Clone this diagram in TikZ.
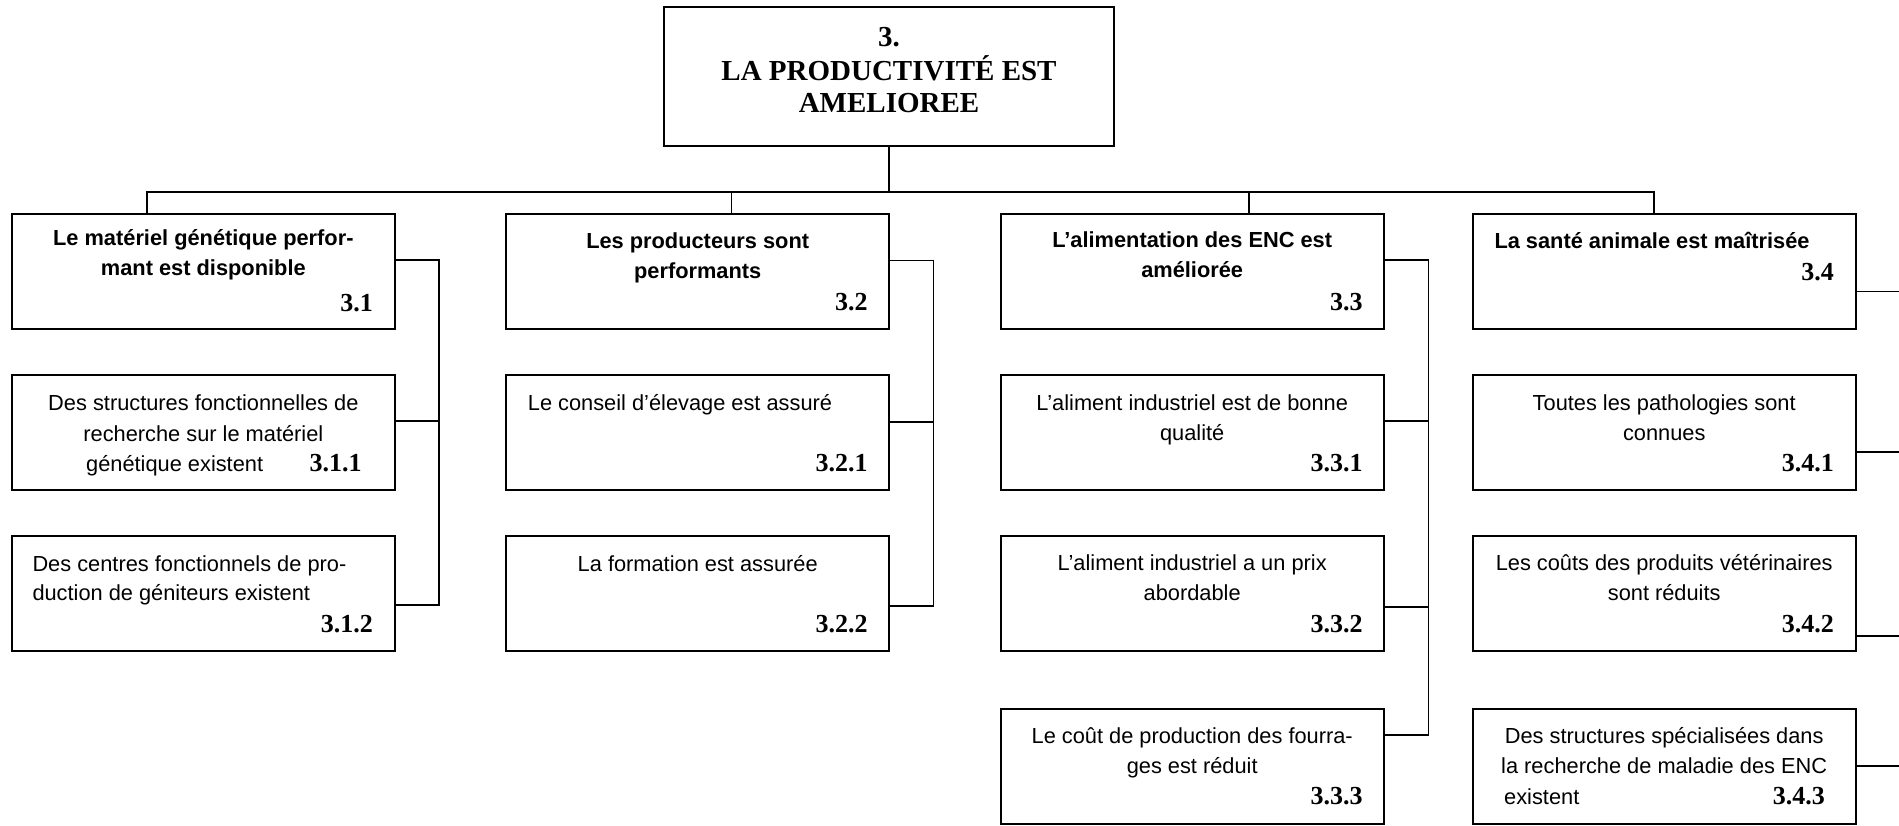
\documentclass[tikz,border=0pt]{standalone}
\usepackage{fontspec}
\setmainfont{Liberation Sans}
\newfontfamily\numfont{Liberation Serif}
\usetikzlibrary{calc}
\tikzset{
  box/.style={draw, line width=2pt, minimum width=383pt, minimum height=115pt, inner sep=0pt, outer sep=0pt},
  conn/.style={line width=1.6pt},
  txt/.style={anchor=base, inner sep=0pt, font=\fontsize{21.8}{26}\selectfont},
  txtw/.style={txt, anchor=base west},
  btxt/.style={txt, font=\fontsize{21.8}{26}\selectfont\bfseries},
  btxtw/.style={btxt, anchor=base west},
  num/.style={anchor=base east, inner sep=0pt, font=\numfont\fontsize{26}{30}\selectfont\bfseries},
  ttl/.style={anchor=base, inner sep=0pt, font=\numfont\fontsize{29}{33}\selectfont\bfseries}
}
\begin{document}
\begin{tikzpicture}[x=1pt,y=-1pt]
\useasboundingbox (0,0) rectangle (1899,826);
\clip (0,0) rectangle (1899,826);
\fill[white] (0,0) rectangle (1899,826);
% ---- boxes
\node[box, minimum width=450pt, minimum height=138.4pt] (b3) at (889,76.5) {};
\node[box] (b31) at (203.35,271.8) {};
\node[box] (b32) at (697.7,271.8) {};
\node[box] (b33) at (1192.2,271.8) {};
\node[box] (b34) at (1664.2,271.8) {};
\node[box, minimum height=114.5pt] (b311) at (203.35,432.75) {};
\node[box, minimum height=114.5pt] (b312) at (203.35,593.7) {};
\node[box, minimum height=114.5pt] (b321) at (697.7,432.75) {};
\node[box, minimum height=114.5pt] (b322) at (697.7,593.7) {};
\node[box, minimum height=114.5pt] (b331) at (1192.2,432.75) {};
\node[box, minimum height=114.5pt] (b332) at (1192.2,593.7) {};
\node[box, minimum height=114.5pt] (b333) at (1192.2,766.7) {};
\node[box, minimum height=114.5pt] (b341) at (1664.2,432.75) {};
\node[box, minimum height=114.5pt] (b342) at (1664.2,593.7) {};
\node[box, minimum height=114.5pt] (b343) at (1664.2,766.7) {};
% ---- title
\node[ttl] (t3a) at (889,47) {3.};
\node[ttl] (t3b) at (889,80.5) {LA PRODUCTIVITÉ EST};
\node[ttl] (t3c) at (889,113) {AMELIOREE};
% ---- level 1
\node[btxt] (t31a) at (203.35,246) {Le matériel génétique perfor-};
\node[btxt] (t31b) at (203.35,275.5) {mant est disponible};
\node[num] (n31) at (373,311.5) {3.1};
\node[btxt] (t32a) at (697.7,249) {Les producteurs sont};
\node[btxt] (t32b) at (697.7,279) {performants};
\node[num] (n32) at (867.7,311) {3.2};
\node[btxt] (t33a) at (1192.2,248) {L’alimentation des ENC est};
\node[btxt] (t33b) at (1192.2,278) {améliorée};
\node[num] (n33) at (1362.7,311) {3.3};
\node[btxtw] (t34a) at (1494.3,249) {La santé animale est maîtrisée};
\node[num] (n34) at (1834,280.7) {3.4};
% ---- 3.1.x
\node[txt] (t311a) at (203.35,410) {Des structures fonctionnelles de};
\node[txt] (t311b) at (203.35,441) {recherche sur le matériel};
\node[txtw] (t311c) at (86,471) {génétique existent};
\node[num] (n311) at (361.7,471) {3.1.1};
\node[txtw] (t312a) at (32.3,571.7) {Des centres fonctionnels de pro-};
\node[txtw] (t312b) at (32.3,600.7) {duction de géniteurs existent};
\node[num] (n312) at (373,632.7) {3.1.2};
% ---- 3.2.x
\node[txtw] (t321a) at (527.7,410) {Le conseil d’élevage est assuré};
\node[num] (n321) at (867.7,471.7) {3.2.1};
\node[txt] (t322a) at (697.7,571.7) {La formation est assurée};
\node[num] (n322) at (867.7,632.7) {3.2.2};
% ---- 3.3.x
\node[txt] (t331a) at (1192.2,410) {L’aliment industriel est de bonne};
\node[txt] (t331b) at (1192.2,440) {qualité};
\node[num] (n331) at (1362.7,471) {3.3.1};
\node[txt] (t332a) at (1192.2,570.7) {L’aliment industriel a un prix};
\node[txt] (t332b) at (1192.2,600.7) {abordable};
\node[num] (n332) at (1362.7,632.7) {3.3.2};
\node[txt] (t333a) at (1192.2,743.3) {Le coût de production des fourra-};
\node[txt] (t333b) at (1192.2,773.3) {ges est réduit};
\node[num] (n333) at (1362.7,804) {3.3.3};
% ---- 3.4.x
\node[txt] (t341a) at (1664.2,410) {Toutes les pathologies sont};
\node[txt] (t341b) at (1664.2,440) {connues};
\node[num] (n341) at (1834,471.7) {3.4.1};
\node[txt] (t342a) at (1664.2,570.7) {Les coûts des produits vétérinaires};
\node[txt] (t342b) at (1664.2,600.7) {sont réduits};
\node[num] (n342) at (1834,632.7) {3.4.2};
\node[txt] (t343a) at (1664.2,743.3) {Des structures spécialisées dans};
\node[txt] (t343b) at (1664.2,773.3) {la recherche de maladie des ENC};
\node[txtw] (t343c) at (1504,804) {existent};
\node[num] (n343) at (1825,804) {3.4.3};
% ---- top connectors
\draw[conn] (b3.south) -- ++(0,46.3) coordinate (bus);
\coordinate (d1) at ($(b31.north west)+(135,0)$);
\coordinate (d2) at ($(b32.north west)+(225.4,0)$);
\coordinate (d3) at ($(b33.north west)+(248.3,0)$);
\coordinate (d4) at ($(b34.north west)+(181.3,0)$);
\draw[conn] (d1) |- (bus);
\draw[conn] (d2) |- (bus);
\draw[conn] (d3) |- (bus);
\draw[conn] (d4) |- (bus);
% ---- column A
\draw[conn] ($(b311.east)+(0,-11.75)$) -- ++(44.3,0) |- ($(b31.east)+(0,-11.8)$);
\draw[conn] ($(b312.east)+(0,11.3)$) -- ++(44.3,0) |- ($(b31.east)+(0,-11.8)$);
% ---- column B
\draw[conn] ($(b321.east)+(0,-11)$) -- ++(44.3,0) |- ($(b32.east)+(0,-11.1)$);
\draw[conn] ($(b322.east)+(0,12.3)$) -- ++(44.3,0) |- ($(b32.east)+(0,-11.1)$);
% ---- column C
\draw[conn] ($(b331.east)+(0,-12)$) -- ++(44.8,0) |- ($(b33.east)+(0,-11.8)$);
\draw[conn] ($(b332.east)+(0,13)$) -- ++(44.8,0) |- ($(b33.east)+(0,-11.8)$);
\draw[conn] ($(b333.east)+(0,-31.7)$) -- ++(44.8,0) |- ($(b33.east)+(0,-11.8)$);
% ---- column D (runs off the right edge)
\draw[conn] ($(b341.east)+(0,19)$) -- ++(60,0) |- ($(b34.east)+(0,19.9)$);
\draw[conn] ($(b342.east)+(0,42.3)$) -- ++(60,0) |- ($(b34.east)+(0,19.9)$);
\draw[conn] ($(b343.east)+(0,-0.7)$) -- ++(60,0) |- ($(b34.east)+(0,19.9)$);
\end{tikzpicture}
\end{document}
